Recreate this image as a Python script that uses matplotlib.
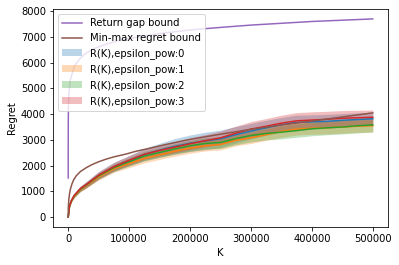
import matplotlib
matplotlib.use('Agg')
import matplotlib.pyplot as plt
import numpy as np

K = [0, 2000, 5000, 10000, 20000, 30000, 50000, 75000, 100000, 125000, 150000, 175000,
     200000, 225000, 250000, 275000, 300000, 325000, 350000, 375000, 400000, 425000,
     450000, 475000, 500000]

# mean regret per epsilon_pow
regret_0 = [0, 420, 630, 840, 1100, 1270, 1620, 1950, 2190, 2430, 2600, 2750,
            2870, 2960, 3040, 3200, 3340, 3470, 3590, 3680, 3700, 3720, 3760, 3790, 3820]
regret_1 = [0, 400, 610, 810, 1060, 1230, 1560, 1880, 2080, 2280, 2420, 2560,
            2680, 2770, 2820, 2980, 3080, 3200, 3330, 3420, 3450, 3470, 3500, 3530, 3550]
regret_2 = [0, 410, 620, 830, 1080, 1250, 1600, 1920, 2150, 2370, 2510, 2650,
            2770, 2860, 2900, 3050, 3170, 3250, 3300, 3360, 3430, 3470, 3500, 3550, 3580]
regret_3 = [0, 420, 635, 850, 1110, 1270, 1630, 1960, 2210, 2440, 2590, 2720,
            2850, 2970, 3080, 3260, 3420, 3530, 3650, 3740, 3770, 3800, 3840, 3860, 3880]

# half width of the shaded band per epsilon_pow
band_0 = [0, 30, 50, 70, 100, 120, 150, 180, 200, 240, 270, 300,
          320, 340, 340, 320, 300, 290, 280, 280, 270, 270, 260, 260, 250]
band_1 = [0, 25, 40, 60, 80, 100, 120, 140, 160, 170, 180, 190,
          200, 200, 210, 210, 220, 220, 230, 230, 230, 240, 240, 240, 240]
band_2 = [0, 25, 40, 60, 80, 100, 120, 140, 160, 180, 190, 200,
          210, 220, 230, 240, 250, 250, 260, 260, 270, 270, 270, 280, 280]
band_3 = [0, 30, 50, 70, 100, 120, 140, 160, 180, 200, 210, 220,
          230, 240, 260, 270, 290, 300, 310, 320, 320, 310, 300, 290, 280]

# bounds
K_gap = [1, 3, 10, 30, 100, 300, 1000, 3000, 10000, 20000, 30000, 45000, 60000,
         80000, 100000, 150000, 200000, 250000, 300000, 350000, 400000, 450000, 500000]
gap_bound = [1520, 2040, 2600, 3120, 3690, 4210, 4770, 5290, 5860, 6180, 6380, 6570, 6700,
             6840, 6940, 7130, 7270, 7370, 7460, 7530, 7600, 7650, 7700]

K_minmax = [0, 100, 300, 1000, 2000, 3000, 4500, 6000, 9000, 13000, 20000, 30000, 40000,
            50000, 62000, 75000, 95000, 110000, 128000, 160000, 200000, 250000, 300000,
            350000, 400000, 450000, 500000]
minmax_bound = [0, 300, 430, 700, 880, 1030, 1160, 1280, 1450, 1600, 1770, 1925, 2050,
                2150, 2250, 2340, 2450, 2550, 2645, 2820, 3020, 3220, 3410,
                3580, 3730, 3890, 4050]

means = [regret_0, regret_1, regret_2, regret_3]
bands = [band_0, band_1, band_2, band_3]
colors = ['#1f77b4', '#ff7f0e', '#2ca02c', '#d62728']

fig = plt.figure(figsize=(399 / 72, 265 / 72), dpi=72)
ax = fig.add_axes([53 / 399, 38 / 265, 335 / 399, 218 / 265])

fills = []
for i in range(4):
    m = np.array(means[i])
    b = np.array(bands[i])
    ax.plot(K, m, color=colors[i], lw=1.5)
    f = ax.fill_between(K, m - b, m + b, color=colors[i], alpha=0.3, lw=0,
                        label='R(K),epsilon_pow:' + str(i))
    fills.append(f)

l1, = ax.plot(K_gap, gap_bound, color='#9467bd', lw=1.5, label='Return gap bound')
l2, = ax.plot(K_minmax, minmax_bound, color='#8c564b', lw=1.5, label='Min-max regret bound')

ax.set_xlabel('K')
ax.set_ylabel('Regret')
ax.legend(handles=[l1, l2] + fills, loc='upper left')

fig.savefig('out.png', dpi=72)
